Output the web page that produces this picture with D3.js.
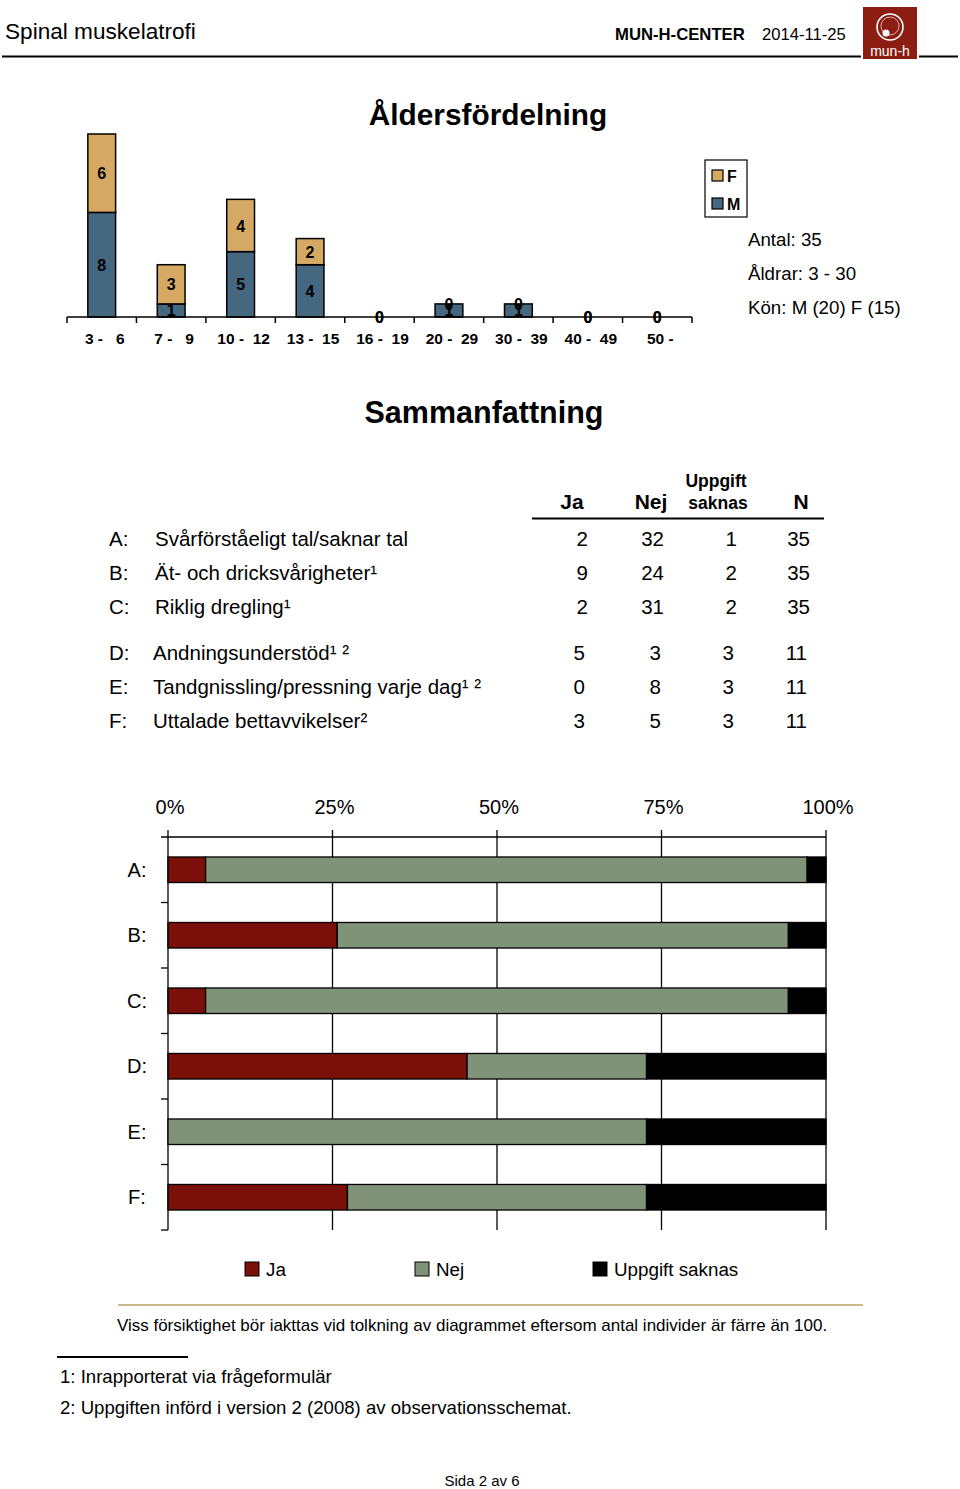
<!DOCTYPE html>
<html>
<head>
<meta charset="utf-8">
<script src="https://cdn.jsdelivr.net/npm/d3@7"></script>
<style>
  html, body { margin: 0; padding: 0; background: #fff; }
  svg { display: block; font-family: "Liberation Sans", Arial, Helvetica, sans-serif; }
  text { white-space: pre; }
</style>
</head>
<body>
<svg id="chart" width="960" height="1489"></svg>
<script>
// ---------- DATA ----------
const ageCategories = ["3 -   6", "7 -   9", "10 -  12", "13 -  15", "16 -  19", "20 -  29", "30 -  39", "40 -  49", "50 -"];
const ageM = [8, 1, 5, 4, 0, 1, 1, 0, 0];
const ageF = [6, 3, 4, 2, 0, 0, 0, 0, 0];
const infoLines = ["Antal: 35", "Åldrar: 3 - 30", "Kön: M (20) F (15)"];

const rowLetters = ["A:", "B:", "C:", "D:", "E:", "F:"];
const rowLabels = [
  "Svårförståeligt tal/saknar tal",
  "Ät- och dricksvårigheter¹",
  "Riklig dregling¹",
  "Andningsunderstöd¹ ²",
  "Tandgnissling/pressning varje dag¹ ²",
  "Uttalade bettavvikelser²"
];
const valJa = [2, 9, 2, 5, 0, 3];
const valNej = [32, 24, 31, 3, 8, 5];
const valSaknas = [1, 2, 2, 3, 3, 3];
const valN = [35, 35, 35, 11, 11, 11];

const pctTicks = [0, 0.25, 0.5, 0.75, 1];
const pctTickLabels = ["0%", "25%", "50%", "75%", "100%"];
const seriesNames = ["Ja", "Nej", "Uppgift saknas"];

// ---------- STYLE ----------
const colM = "#45677f", colF = "#d5a964";
const seriesColors = ["#7b0f09", "#809278", "#000000"];

const svg = d3.select("#chart");

// ---------- HEADER ----------
svg.append("text").attr("x", 5).attr("y", 39).attr("font-size", 22.6).text("Spinal muskelatrofi");
svg.append("text").attr("x", 615).attr("y", 40).attr("font-size", 16.7).attr("font-weight", "bold").text("MUN-H-CENTER");
svg.append("text").attr("x", 762).attr("y", 40).attr("font-size", 16.6).text("2014-11-25");
svg.append("line").attr("x1", 2).attr("x2", 861).attr("y1", 56.5).attr("y2", 56.5).attr("stroke", "#000").attr("stroke-width", 2);
svg.append("line").attr("x1", 919).attr("x2", 958).attr("y1", 56.5).attr("y2", 56.5).attr("stroke", "#000").attr("stroke-width", 2);
const logo = svg.append("g");
logo.append("rect").attr("x", 863).attr("y", 7).attr("width", 54).attr("height", 52).attr("fill", "#8b1d12");
logo.append("circle").attr("cx", 890).attr("cy", 27).attr("r", 13).attr("fill", "none").attr("stroke", "#fff").attr("stroke-width", 1.6);
logo.append("circle").attr("cx", 890).attr("cy", 26).attr("r", 9).attr("fill", "none").attr("stroke", "#f3d6cf").attr("stroke-width", 0.8);
logo.append("circle").attr("cx", 886).attr("cy", 33).attr("r", 3.5).attr("fill", "#fff");
logo.append("text").attr("x", 890).attr("y", 56).attr("text-anchor", "middle").attr("font-size", 14).attr("fill", "#fff").text("mun-h");

// ---------- AGE CHART ----------
svg.append("text").attr("x", 488).attr("y", 125).attr("text-anchor", "middle").attr("font-size", 29.8).attr("font-weight", "bold").text("Åldersfördelning");

const xAge = d3.scaleBand().domain(ageCategories).range([67, 692]).paddingInner(0.6).paddingOuter(0.3);
const yAge = d3.scaleLinear().domain([0, 14]).range([317, 134]);
const ageData = ageCategories.map((c, i) => ({ c, m: ageM[i], f: ageF[i] }));

const ageG = svg.append("g");
ageG.selectAll("rect.m").data(ageData.filter(d => d.m > 0)).join("rect")
  .attr("x", d => xAge(d.c)).attr("width", xAge.bandwidth())
  .attr("y", d => yAge(d.m)).attr("height", d => yAge(0) - yAge(d.m))
  .attr("fill", colM).attr("stroke", "#000").attr("stroke-width", 1.5);
ageG.selectAll("rect.f").data(ageData.filter(d => d.f > 0)).join("rect")
  .attr("x", d => xAge(d.c)).attr("width", xAge.bandwidth())
  .attr("y", d => yAge(d.m + d.f)).attr("height", d => yAge(d.m) - yAge(d.m + d.f))
  .attr("fill", colF).attr("stroke", "#000").attr("stroke-width", 1.5);

// axis
ageG.append("line").attr("x1", 67).attr("x2", 692).attr("y1", yAge(0)).attr("y2", yAge(0)).attr("stroke", "#000").attr("stroke-width", 1.5);
const step = xAge.step();
d3.range(ageCategories.length + 1).forEach(i => {
  const x = 67 + i * step;
  ageG.append("line").attr("x1", x).attr("x2", x).attr("y1", yAge(0)).attr("y2", yAge(0) + 6).attr("stroke", "#000").attr("stroke-width", 1.5);
});
ageG.selectAll("text.cat").data(ageCategories).join("text")
  .attr("x", d => xAge(d) + xAge.bandwidth() / 2 + 3).attr("y", 344)
  .attr("text-anchor", "middle").attr("font-size", 15.5).attr("font-weight", "bold").text(d => d);

// value labels
ageG.selectAll("text.mv").data(ageData).join("text")
  .attr("x", d => xAge(d.c) + xAge.bandwidth() / 2)
  .attr("y", d => (yAge(0) + yAge(d.m)) / 2 + 6)
  .attr("text-anchor", "middle").attr("font-size", 16).attr("font-weight", "bold").text(d => d.m);
ageG.selectAll("text.fv").data(ageData).join("text")
  .attr("x", d => xAge(d.c) + xAge.bandwidth() / 2)
  .attr("y", d => (yAge(d.m) + yAge(d.m + d.f)) / 2 + 6)
  .attr("text-anchor", "middle").attr("font-size", 16).attr("font-weight", "bold").text(d => d.f);

// legend F/M
const lg = svg.append("g");
lg.append("rect").attr("x", 705).attr("y", 160).attr("width", 42).attr("height", 57).attr("fill", "#fff").attr("stroke", "#000").attr("stroke-width", 1.2);
[["F", colF, 176], ["M", colM, 204]].forEach(([t, c, y]) => {
  lg.append("rect").attr("x", 712).attr("y", y - 6).attr("width", 11).attr("height", 11).attr("fill", c).attr("stroke", "#000").attr("stroke-width", 1.2);
  lg.append("text").attr("x", 727).attr("y", y + 6).attr("font-size", 16).attr("font-weight", "bold").text(t);
});
svg.selectAll("text.info").data(infoLines).join("text")
  .attr("x", 748).attr("y", (d, i) => 246 + i * 34).attr("font-size", 18.7).text(d => d);

// ---------- SUMMARY TABLE ----------
svg.append("text").attr("x", 484).attr("y", 423).attr("text-anchor", "middle").attr("font-size", 30.5).attr("font-weight", "bold").text("Sammanfattning");

const colRight = [588, 664, 737, 810];
const th = svg.append("g").attr("font-weight", "bold");
th.append("text").attr("x", 572).attr("y", 509).attr("text-anchor", "middle").attr("font-size", 21).text("Ja");
th.append("text").attr("x", 651).attr("y", 509).attr("text-anchor", "middle").attr("font-size", 21).text("Nej");
th.append("text").attr("x", 716).attr("y", 487).attr("text-anchor", "middle").attr("font-size", 17.5).text("Uppgift");
th.append("text").attr("x", 718).attr("y", 509).attr("text-anchor", "middle").attr("font-size", 17.5).text("saknas");
th.append("text").attr("x", 801).attr("y", 509).attr("text-anchor", "middle").attr("font-size", 21).text("N");
svg.append("line").attr("x1", 532).attr("x2", 824).attr("y1", 518.5).attr("y2", 518.5).attr("stroke", "#000").attr("stroke-width", 2);

const rowY = [546, 580, 614, 660, 694, 728];
const tb = svg.append("g").attr("font-size", 20.5);
rowLetters.forEach((l, i) => {
  tb.append("text").attr("x", 109).attr("y", rowY[i]).text(l);
  tb.append("text").attr("x", i < 3 ? 155 : 153).attr("y", rowY[i]).text(rowLabels[i]);
  [valJa[i], valNej[i], valSaknas[i], valN[i]].forEach((v, j) => {
    const off = i < 3 ? 0 : -3;
    tb.append("text").attr("x", colRight[j] + off).attr("y", rowY[i]).attr("text-anchor", "end").text(v);
  });
});

// ---------- PERCENT BAR CHART ----------
const xP = d3.scaleLinear().domain([0, 1]).range([168, 826]);
const yP = d3.scaleBand().domain(rowLetters).range([837, 1230]).paddingInner(0.61).paddingOuter(0.305);
const pg = svg.append("g");

pctTicks.forEach((t, i) => {
  pg.append("line").attr("x1", xP(t)).attr("x2", xP(t)).attr("y1", 830).attr("y2", 1230).attr("stroke", "#000").attr("stroke-width", 1.3);
  pg.append("text").attr("x", xP(t) + 2).attr("y", 814).attr("text-anchor", "middle").attr("font-size", 20).text(pctTickLabels[i]);
});
pg.append("line").attr("x1", 161).attr("x2", 826).attr("y1", 837).attr("y2", 837).attr("stroke", "#000").attr("stroke-width", 1.3);
d3.range(rowLetters.length + 1).forEach(i => {
  const y = 837 + i * yP.step();
  if (i > 0) pg.append("line").attr("x1", 161).attr("x2", 168).attr("y1", y).attr("y2", y).attr("stroke", "#000").attr("stroke-width", 1.3);
});

const stacked = rowLetters.map((l, i) => {
  const n = valN[i];
  const vals = [valJa[i], valNej[i], valSaknas[i]];
  let acc = 0;
  return vals.map((v, k) => { const s = { l, k, x0: acc / n, x1: (acc + v) / n }; acc += v; return s; });
}).flat().filter(d => d.x1 > d.x0);

pg.selectAll("rect.seg").data(stacked).join("rect")
  .attr("x", d => xP(d.x0)).attr("width", d => xP(d.x1) - xP(d.x0))
  .attr("y", d => yP(d.l)).attr("height", yP.bandwidth())
  .attr("fill", d => seriesColors[d.k]).attr("stroke", "#000").attr("stroke-width", 1.3);

pg.selectAll("text.rl").data(rowLetters).join("text")
  .attr("x", 137).attr("y", d => yP(d) + yP.bandwidth() / 2 + 7)
  .attr("text-anchor", "middle").attr("font-size", 20).text(d => d);

// legend
const legX = [245, 415, 593];
seriesNames.forEach((s, i) => {
  pg.append("rect").attr("x", legX[i]).attr("y", 1262).attr("width", 14).attr("height", 14).attr("fill", seriesColors[i]).attr("stroke", "#000").attr("stroke-width", 1);
  pg.append("text").attr("x", legX[i] + 21).attr("y", 1276).attr("font-size", 18.8).text(s);
});

// ---------- FOOTER ----------
svg.append("line").attr("x1", 118).attr("x2", 863).attr("y1", 1305).attr("y2", 1305).attr("stroke", "#c9b98d").attr("stroke-width", 2);
svg.append("text").attr("x", 472).attr("y", 1331).attr("text-anchor", "middle").attr("font-size", 17).text("Viss försiktighet bör iakttas vid tolkning av diagrammet eftersom antal individer är färre än 100.");
svg.append("line").attr("x1", 57).attr("x2", 188).attr("y1", 1357).attr("y2", 1357).attr("stroke", "#000").attr("stroke-width", 2);
svg.append("text").attr("x", 60).attr("y", 1383).attr("font-size", 18.6).text("1: Inrapporterat via frågeformulär");
svg.append("text").attr("x", 60).attr("y", 1414).attr("font-size", 18.6).text("2: Uppgiften införd i version 2 (2008) av observationsschemat.");
svg.append("text").attr("x", 482).attr("y", 1486).attr("text-anchor", "middle").attr("font-size", 15).text("Sida 2 av 6");
</script>
</body>
</html>
